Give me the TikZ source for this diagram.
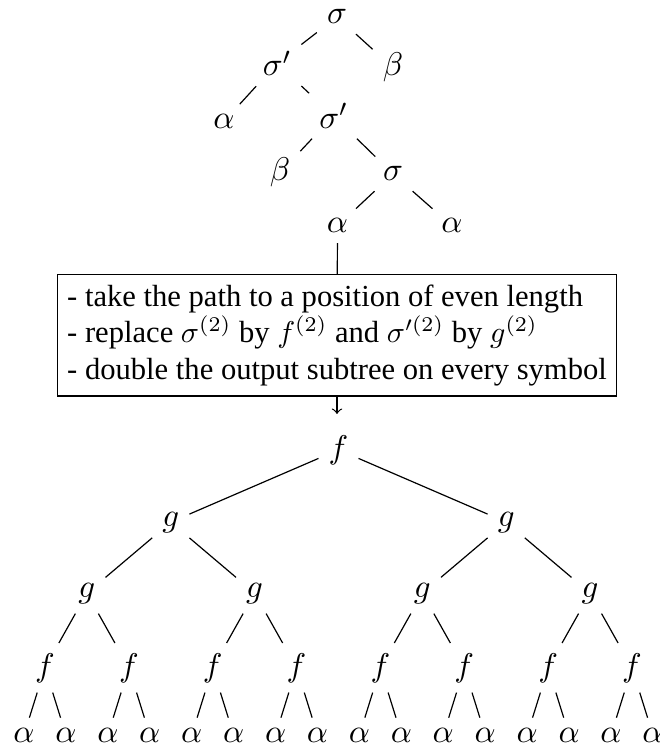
\documentclass[tikz,border=0pt]{standalone}
\usepackage{fontspec}
\setmainfont{Liberation Serif}
\begin{document}
\begin{tikzpicture}[x=0.33333pt, y=-0.33333pt,
  tn/.style={anchor=base, inner sep=3.2pt, font=\fontsize{11}{13}\selectfont},
  rulebox/.style={draw, align=left, anchor=north, inner sep=3.33pt,
    font=\fontsize{10.2}{12.2}\selectfont}]
\useasboundingbox (0,0) rectangle (659,746);
% top tree
\node[tn] (t0) at (337,24) {$\sigma$};
\node[tn] (t1) at (277,76) {$\sigma'$};
\node[tn] (t2) at (393,76) {$\beta$};
\node[tn] (t3) at (224,128.5) {$\alpha$};
\node[tn] (t4) at (333.5,128.5) {$\sigma'$};
\node[tn] (t5) at (280,181) {$\beta$};
\node[tn] (t6) at (393,181) {$\sigma$};
\node[tn] (t7) at (337.5,233) {$\alpha$};
\node[tn] (t8) at (452,233) {$\alpha$};
\draw (t0) -- (t1);
\draw (t0) -- (t2);
\draw (t1) -- (t3);
\draw (t1) -- (t4);
\draw (t4) -- (t5);
\draw (t4) -- (t6);
\draw (t6) -- (t7);
\draw (t6) -- (t8);
% box
\node[rulebox] (box) at (337,274) {- take the path to a position of even length\\
- replace $\sigma^{(2)}$ by $f^{(2)}$ and $\sigma'^{(2)}$ by $g^{(2)}$\\
- double the output subtree on every symbol};
\draw (t7) -- (box);
\coordinate (arr) at (337,414);
\draw[->] (box.south) -- (arr);
% bottom tree
\foreach \k in {0,...,15} {
  \node[tn] (a\k) at ({24+41.93*\k},742) {$\alpha$};
}
\foreach \j in {0,...,7} {
  \node[tn] (f\j) at ({44.97+83.86*\j},676) {$f$};
}
\foreach \i in {0,...,3} {
  \node[tn] (h\i) at ({86.9+167.72*\i},597) {$g$};
}
\node[tn] (k0) at (170.8,526) {$g$};
\node[tn] (k1) at (506.2,526) {$g$};
\node[tn] (r) at (338.5,458) {$f$};
\draw (r) -- (k0);
\draw (r) -- (k1);
\draw (k0) -- (h0);
\draw (k0) -- (h1);
\draw (k1) -- (h2);
\draw (k1) -- (h3);
\foreach \i in {0,...,3} {
  \pgfmathtruncatemacro\fa{2*\i}
  \pgfmathtruncatemacro\fb{2*\i+1}
  \draw (h\i) -- (f\fa);
  \draw (h\i) -- (f\fb);
}
\foreach \j in {0,...,7} {
  \pgfmathtruncatemacro\aa{2*\j}
  \pgfmathtruncatemacro\ab{2*\j+1}
  \draw (f\j) -- (a\aa);
  \draw (f\j) -- (a\ab);
}
\end{tikzpicture}
\end{document}
